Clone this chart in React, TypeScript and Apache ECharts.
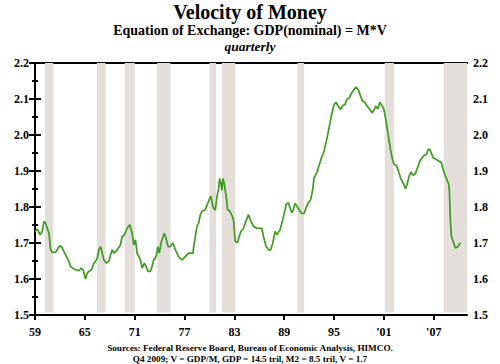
import React, { useEffect, useRef } from "react";
import * as echarts from "echarts";

const years: number[] = [
  1959.0, 1959.28, 1959.6, 1959.88, 1960.08, 1960.28, 1960.48, 1960.68, 1960.88, 1961.08,
  1961.48, 1961.68, 1961.88, 1962.08, 1962.28, 1962.68, 1963.08, 1963.28, 1963.68, 1964.0,
  1964.28, 1964.56, 1964.8, 1964.96, 1965.08, 1965.28, 1965.48, 1965.77, 1966.09, 1966.29,
  1966.49, 1966.69, 1966.89, 1967.09, 1967.29, 1967.61, 1967.89, 1968.09, 1968.29, 1968.49,
  1968.89, 1969.29, 1969.49, 1969.77, 1970.09, 1970.41, 1970.69, 1970.89, 1971.09, 1971.29,
  1971.69, 1971.89, 1972.17, 1972.37, 1972.61, 1972.89, 1973.09, 1973.29, 1973.49, 1973.69,
  1973.77, 1973.97, 1974.17, 1974.37, 1974.57, 1974.77, 1975.01, 1975.29, 1975.61, 1975.89,
  1976.29, 1976.69, 1977.09, 1977.49, 1978.02, 1978.1, 1978.5, 1978.7, 1978.9, 1979.1,
  1979.5, 1979.7, 1980.02, 1980.18, 1980.42, 1980.7, 1980.9, 1981.1, 1981.22, 1981.38,
  1981.5, 1981.62, 1981.78, 1982.02, 1982.18, 1982.42, 1982.7, 1982.9, 1983.1, 1983.38,
  1983.58, 1983.78, 1984.1, 1984.38, 1984.7, 1984.9, 1985.3, 1985.7, 1986.3, 1986.5,
  1986.82, 1987.1, 1987.38, 1987.62, 1987.9, 1988.1, 1988.5, 1988.82, 1989.1, 1989.22,
  1989.5, 1989.7, 1989.9, 1990.1, 1990.3, 1990.5, 1990.82, 1991.1, 1991.39, 1991.63,
  1991.91, 1992.19, 1992.43, 1992.59, 1992.91, 1993.23, 1993.51, 1993.79, 1994.11, 1994.43,
  1994.71, 1994.99, 1995.23, 1995.51, 1995.79, 1996.03, 1996.31, 1996.51, 1996.83, 1997.11,
  1997.39, 1997.63, 1997.91, 1998.19, 1998.43, 1998.71, 1998.99, 1999.31, 1999.59, 1999.79,
  2000.03, 2000.27, 2000.51, 2000.71, 2000.99, 2001.23, 2001.51, 2001.79, 2002.03, 2002.23,
  2002.51, 2002.75, 2002.99, 2003.31, 2003.59, 2003.79, 2004.04, 2004.24, 2004.52, 2004.8,
  2005.04, 2005.32, 2005.6, 2005.84, 2006.12, 2006.32, 2006.52, 2006.72, 2006.92, 2007.32,
  2007.64, 2007.92, 2008.12, 2008.4, 2008.6, 2008.8, 2008.88, 2009.0, 2009.12, 2009.4,
  2009.6, 2009.92, 2010.2,
];

const velocity: number[] = [
  1.732, 1.739, 1.723, 1.732, 1.76, 1.755, 1.741, 1.727, 1.681, 1.674,
  1.674, 1.681, 1.69, 1.692, 1.686, 1.667, 1.649, 1.635, 1.628, 1.625,
  1.623, 1.63, 1.625, 1.611, 1.6, 1.616, 1.621, 1.625, 1.644, 1.649,
  1.658, 1.681, 1.69, 1.672, 1.653, 1.644, 1.649, 1.667, 1.681, 1.672,
  1.681, 1.695, 1.718, 1.723, 1.741, 1.751, 1.727, 1.695, 1.709, 1.672,
  1.653, 1.63, 1.644, 1.635, 1.621, 1.621, 1.635, 1.653, 1.658, 1.672,
  1.69, 1.672, 1.7, 1.714, 1.727, 1.714, 1.69, 1.69, 1.7, 1.681,
  1.662, 1.653, 1.662, 1.672, 1.672, 1.69, 1.746, 1.755, 1.779, 1.788,
  1.792, 1.805, 1.823, 1.83, 1.8, 1.791, 1.828, 1.851, 1.879, 1.865,
  1.846, 1.879, 1.865, 1.828, 1.793, 1.789, 1.777, 1.763, 1.704, 1.701,
  1.718, 1.732, 1.741, 1.76, 1.779, 1.765, 1.746, 1.741, 1.741, 1.718,
  1.69, 1.681, 1.681, 1.7, 1.732, 1.723, 1.737, 1.765, 1.792, 1.807,
  1.812, 1.798, 1.784, 1.793, 1.81, 1.803, 1.791, 1.782, 1.782, 1.798,
  1.812, 1.821, 1.849, 1.881, 1.895, 1.918, 1.939, 1.955, 1.987, 2.024,
  2.057, 2.084, 2.091, 2.08, 2.071, 2.082, 2.084, 2.098, 2.103, 2.117,
  2.126, 2.133, 2.126, 2.108, 2.094, 2.091, 2.08, 2.071, 2.061, 2.069,
  2.08, 2.072, 2.091, 2.084, 2.072, 2.043, 2.001, 1.96, 1.932, 1.918,
  1.915, 1.9, 1.881, 1.867, 1.851, 1.863, 1.886, 1.897, 1.888, 1.893,
  1.909, 1.927, 1.937, 1.943, 1.946, 1.96, 1.96, 1.949, 1.937, 1.932,
  1.927, 1.923, 1.904, 1.886, 1.875, 1.863, 1.845, 1.765, 1.718, 1.7,
  1.686, 1.69, 1.701,
];

const recessionStart: number[] = [1960.2, 1966.45, 1969.8, 1973.7, 1980.0, 1981.5, 1990.6, 2001.1, 2008.2];
const recessionEnd: number[] = [1961.2, 1967.5, 1971.0, 1975.3, 1980.8, 1983.1, 1991.4, 2002.2, 2011];

const xTickLabels: string[] = ["59", "65", "71", "77", "83", "89", "95", "'01", "'07"];
const baseYear = 1959;

const serif = "'Liberation Serif', 'Times New Roman', serif";

export default function App() {
  const ref = useRef<HTMLDivElement>(null);
  useEffect(() => {
    if (!ref.current) return;
    const chart = echarts.init(ref.current, undefined, { renderer: "svg" });
    const data = years.map((y, i) => [y - baseYear, velocity[i]]);
    const areas = recessionStart.map((s, i) => [
      { xAxis: s - baseYear, yAxis: 1.507 },
      { xAxis: Math.min(recessionEnd[i], 2011) - baseYear, yAxis: 2.2 },
    ]);
    const yAxisCommon = {
      type: "value",
      min: 1.5,
      max: 2.2,
      interval: 0.1,
      splitLine: { show: false },
      axisLine: { show: true, lineStyle: { color: "#000", width: 2 } },
      axisTick: { show: true, length: 6, lineStyle: { color: "#000", width: 2 } },
      minorTick: { show: true, splitNumber: 2, length: 3, lineStyle: { color: "#000", width: 2 } },
      axisLabel: {
        color: "#000",
        fontFamily: serif,
        fontWeight: "bold",
        fontSize: 12,
        margin: 6,
        formatter: (v: number) => v.toFixed(1),
      },
    };
    const smallText = { fontFamily: serif, fontWeight: "bold", fontSize: 9.2, lineHeight: 10, color: "#000" };
    chart.setOption({
      animation: false,
      title: [
        {
          text: "Velocity of Money",
          left: "center",
          top: -3,
          textStyle: { fontFamily: serif, fontWeight: "bold", fontSize: 20, color: "#000" },
        },
        {
          text: "Equation of Exchange: GDP(nominal) = M*V",
          left: "center",
          top: 18,
          textStyle: { fontFamily: serif, fontWeight: "bold", fontSize: 14, color: "#000" },
        },
        {
          text: "quarterly",
          left: "center",
          top: 34,
          textStyle: { fontFamily: serif, fontStyle: "italic", fontWeight: "bold", fontSize: 13.5, color: "#000" },
        },
        {
          text: "Sources: Federal Reserve Board, Bureau of Economic Analysis, HIMCO.",
          left: "center",
          top: 338,
          textStyle: smallText,
        },
        {
          text: "Q4 2009; V = GDP/M, GDP = 14.5 tril, M2 = 8.5 tril, V = 1.7",
          left: "center",
          top: 349,
          textStyle: smallText,
        },
      ],
      grid: { left: 35, right: 33, top: 63, bottom: 49, containLabel: false },
      xAxis: [
        {
          type: "value",
          min: 0,
          max: 52,
          interval: 6,
          position: "bottom",
          splitLine: { show: false },
          axisLine: { show: true, onZero: false, lineStyle: { color: "#000", width: 2 } },
          axisTick: { show: true, length: 5, lineStyle: { color: "#000", width: 2 } },
          axisLabel: {
            color: "#000",
            fontFamily: serif,
            fontWeight: "bold",
            fontSize: 12,
            margin: 11,
            showMaxLabel: false,
            formatter: (v: number) => xTickLabels[Math.round(v / 6)] ?? "",
          },
        },
        {
          type: "value",
          min: 0,
          max: 52,
          position: "top",
          splitLine: { show: false },
          axisLine: { show: true, onZero: false, lineStyle: { color: "#000", width: 2 } },
          axisTick: { show: false },
          axisLabel: { show: false },
        },
      ],
      yAxis: [
        { ...yAxisCommon, position: "left" },
        { ...yAxisCommon, position: "right" },
      ],
      series: [
        {
          type: "line",
          data,
          xAxisIndex: 0,
          yAxisIndex: 0,
          showSymbol: false,
          symbol: "none",
          lineStyle: { color: "#3f9a22", width: 1.7 },
          markArea: {
            silent: true,
            itemStyle: { color: "#e3deda" },
            data: areas,
          },
          z: 3,
        },
      ],
    });
    return () => chart.dispose();
  }, []);
  return <div ref={ref} style={{ width: 500, height: 364, position: "absolute", left: 0, top: 0 }} />;
}
